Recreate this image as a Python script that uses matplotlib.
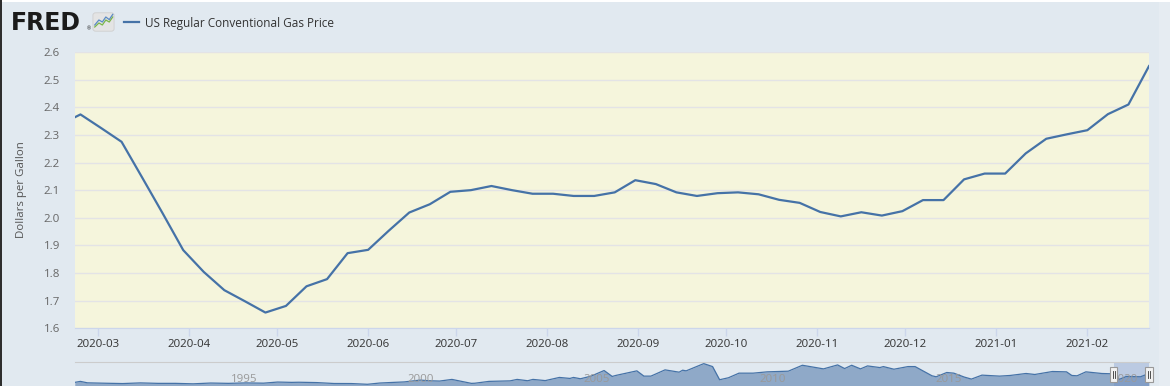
#!/usr/bin/env python

"""Recreates the FRED chart of the weekly US regular conventional gas price, Feb 2020 - Feb 2021."""

import datetime as dt
import numpy as np
import matplotlib
matplotlib.use("Agg")
import matplotlib.pyplot as plt
import matplotlib.dates as mdates
from matplotlib.lines import Line2D
from matplotlib.patches import Rectangle, FancyBboxPatch
import matplotlib.transforms as mtransforms

plt.rcParams["font.family"] = ["Open Sans", "DejaVu Sans"]

# weekly prices (dollars per gallon), Mondays from 2020-02-17
start = dt.date(2020, 2, 17)
prices = [2.337, 2.374, 2.325, 2.275, 2.146, 2.016, 1.883, 1.804, 1.738, 1.698,
          1.657, 1.681, 1.752, 1.778, 1.872, 1.884, 1.953, 2.019, 2.049, 2.094,
          2.100, 2.115, 2.100, 2.087, 2.087, 2.079, 2.079, 2.092, 2.136, 2.122,
          2.092, 2.079, 2.089, 2.092, 2.085, 2.065, 2.054, 2.021, 2.005, 2.020,
          2.008, 2.024, 2.064, 2.064, 2.139, 2.160, 2.160, 2.233, 2.286, 2.302,
          2.317, 2.375, 2.410, 2.549]
dates = [start + dt.timedelta(weeks=i) for i in range(len(prices))]

# navigator: full history, rough readings (decimal year, price)
hist_years = [1990.64, 1990.8, 1991.0, 1991.5, 1992.0, 1992.5, 1993.0, 1993.5, 1994.0, 1994.5,
              1995.0, 1995.5, 1996.0, 1996.4, 1996.8, 1997.0, 1997.5, 1998.0, 1998.5, 1998.95,
              1999.3, 1999.7, 2000.0, 2000.45, 2000.7, 2001.0, 2001.35, 2001.9, 2002.0, 2002.4,
              2003.0, 2003.2, 2003.5, 2003.65, 2004.0, 2004.4, 2004.7, 2004.8, 2005.0, 2005.3,
              2005.67, 2005.9, 2006.0, 2006.6, 2006.8, 2007.0, 2007.4, 2007.8, 2007.9, 2008.0,
              2008.5, 2008.75, 2008.95, 2009.2, 2009.5, 2009.9, 2010.3, 2010.9, 2011.3, 2011.9,
              2012.3, 2012.5, 2012.7, 2012.95, 2013.15, 2013.5, 2013.6, 2013.9, 2014.3, 2014.5,
              2014.98, 2015.1, 2015.4, 2015.6, 2015.9, 2016.1, 2016.4, 2016.9, 2017.2, 2017.65,
              2017.9, 2018.4, 2018.8, 2018.95, 2019.1, 2019.35, 2019.8, 2020.1, 2020.3, 2020.5,
              2020.9, 2021.14]
hist_prices = [1.20, 1.35, 1.13, 1.07, 1.02, 1.12, 1.05, 1.05, 0.98, 1.10,
               1.05, 1.12, 1.08, 1.25, 1.20, 1.22, 1.17, 1.03, 1.02, 0.91,
               1.10, 1.20, 1.27, 1.55, 1.45, 1.40, 1.65, 1.05, 1.07, 1.35,
               1.43, 1.65, 1.45, 1.65, 1.47, 1.95, 1.80, 1.95, 1.75, 2.15,
               3.00, 2.10, 2.25, 2.95, 2.15, 2.15, 3.10, 2.75, 3.05, 2.95,
               4.05, 3.60, 1.60, 1.90, 2.60, 2.60, 2.80, 2.90, 3.80, 3.25,
               3.85, 3.30, 3.80, 3.25, 3.70, 3.45, 3.60, 3.20, 3.60, 3.60,
               2.20, 2.05, 2.70, 2.60, 2.00, 1.70, 2.30, 2.15, 2.25, 2.55,
               2.40, 2.85, 2.80, 2.25, 2.20, 2.80, 2.55, 2.50, 1.66, 2.10,
               2.05, 2.55]
nav_years = [1995, 2000, 2005, 2010, 2015, 2020]

W, H = 1170, 386
bg = "#e1e9f0"
line_color = "#4572a7"

fig = plt.figure(figsize=(W / 100, H / 100), dpi=100, facecolor=bg)

# main plot
left, right, top, bottom = 74.6, 1149, 52, 328.3
ax = fig.add_axes([left / W, 1 - bottom / H, (right - left) / W, (bottom - top) / H])
ax.set_facecolor("#f5f5dc")
ax.plot(dates, prices, color=line_color, lw=1.6, solid_joinstyle="round", zorder=3)
ax.set_xlim(dt.date(2020, 2, 22), dt.date(2021, 2, 22))
ax.set_ylim(1.6, 2.6)
ax.set_yticks(np.round(np.arange(1.6, 2.61, 0.1), 1))
ax.yaxis.set_major_formatter(plt.FormatStrFormatter("%.1f"))
ax.yaxis.grid(True, color="#e3e3e6", lw=1)
ax.set_axisbelow(True)
for s in ["top", "left", "right"]:
    ax.spines[s].set_visible(False)
ax.spines["bottom"].set_color("#ccd6eb")
ax.xaxis.set_major_locator(mdates.MonthLocator())
ax.xaxis.set_major_formatter(mdates.DateFormatter("%Y-%m"))
ax.tick_params(axis="y", length=0, pad=10.5, labelsize=8.25, labelcolor="#666666")
ax.tick_params(axis="x", length=6, width=1, color="#ccd6eb", pad=2,
               labelsize=8.25, labelcolor="#333333")

fig.text(22 / W, 1 - 190 / H, "Dollars per Gallon", rotation=90, ha="center", va="center",
         fontsize=8.25, color="#555555")

# navigator
nav = fig.add_axes([left / W, 0, (right - left) / W, (386 - 362.3) / H])
nav.set_facecolor(bg)
nav.fill_between(hist_years, hist_prices, 0, color="#8fa9c8", lw=0)
nav.plot(hist_years, hist_prices, color=line_color, lw=0.9)
nav.set_xlim(1990.635, 2021.142)
nav.set_ylim(0.65, 4.25)
nav.set_xticks([])
nav.set_yticks([])
for s in ["bottom", "left", "right"]:
    nav.spines[s].set_visible(False)
nav.spines["top"].set_color("#cccccc")
nav.axvspan(2020.142, 2021.142, color=(102 / 255, 133 / 255, 194 / 255), alpha=0.3, lw=0)
for yr in nav_years:
    nav.annotate(str(yr), xy=(yr, 0.27), xycoords=("data", "axes fraction"),
                 xytext=(3, 0), textcoords="offset pixels", ha="left", va="center",
                 fontsize=8.25, color="#999999")
trans = mtransforms.blended_transform_factory(nav.transData, nav.transAxes)
for hx in [2020.142, 2021.142]:
    nav.add_patch(Rectangle((hx - 0.1, 0.17), 0.2, 0.62, transform=trans, facecolor="#f2f2f2",
                            edgecolor="#999999", lw=0.8, zorder=5, clip_on=False))
    for dx in [-0.03, 0.03]:
        nav.add_line(Line2D([hx + dx, hx + dx], [0.32, 0.64], transform=trans,
                            color="#333333", lw=0.6, zorder=6, clip_on=False))

# header: logo and legend
fig.text(11 / W, 1 - 29.5 / H, "FRED", fontsize=17, fontweight="bold", color="#1b1b1b",
         family="DejaVu Sans", va="baseline", ha="left")
fig.text(86.5 / W, 1 - 30 / H, "\u00ae", fontsize=3.5, color="#1b1b1b", va="baseline")
icon = fig.add_axes([92 / W, 1 - 32 / H, 23 / W, 20 / H])
icon.set_axis_off()
icon.add_patch(FancyBboxPatch((0.04, 0.04), 0.92, 0.92, boxstyle="round,pad=0,rounding_size=0.12",
                              facecolor="#e4e4e4", edgecolor="#cfcfcf", lw=0.6,
                              transform=icon.transAxes))
icon_x = [0.12, 0.3, 0.45, 0.6, 0.75, 0.9]
icon_green = [0.25, 0.45, 0.35, 0.6, 0.5, 0.75]
icon_blue = [0.35, 0.6, 0.5, 0.75, 0.62, 0.88]
icon.plot(icon_x, icon_green, color="#7ab648", lw=0.9)
icon.plot(icon_x, icon_blue, color="#5b8bc4", lw=0.9)
icon.set_xlim(0, 1)
icon.set_ylim(0, 1)

fig.add_artist(Line2D([124 / W, 139 / W], [1 - 22 / H] * 2, color=line_color, lw=1.6))
fig.text(145 / W, 1 - 23 / H, "US Regular Conventional Gas Price", fontsize=8.5,
         color="#333333", va="center", ha="left")

# frame bits: white top strip, dark left edge, light right edge
fig.add_artist(Rectangle((0, 1 - 2 / H), 1, 2 / H, transform=fig.transFigure,
                         facecolor="white", lw=0))
fig.add_artist(Rectangle((0, 0), 1.5 / W, 1, transform=fig.transFigure,
                         facecolor="#2e2e2e", lw=0))
fig.add_artist(Rectangle((1159 / W, 0), 11 / W, 1 - 2 / H, transform=fig.transFigure,
                         facecolor="#e6ecf2", lw=0))

fig.savefig("out.png", dpi=100, facecolor=bg)
